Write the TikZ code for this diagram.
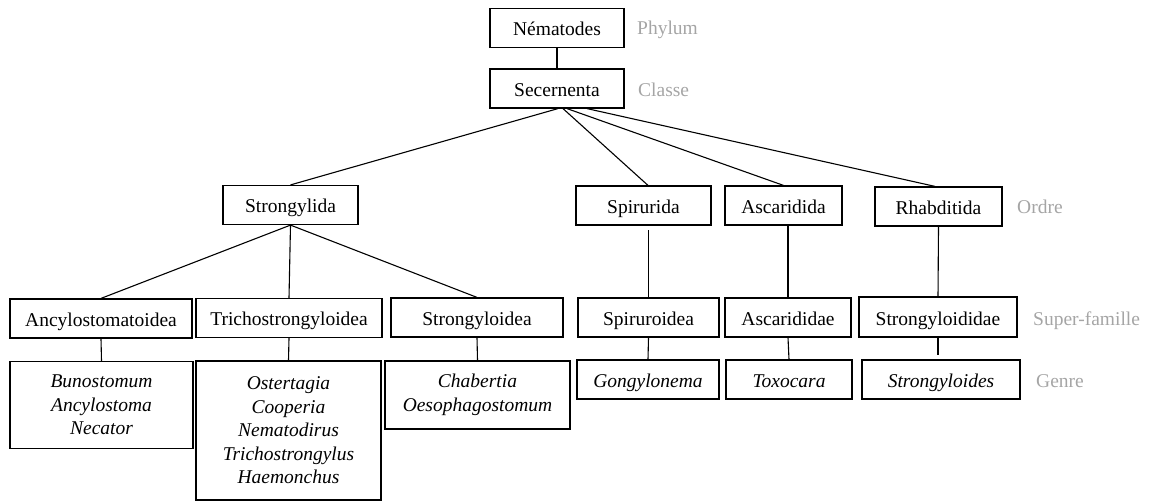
\documentclass[tikz,border=0pt]{standalone}
\usepackage{fontspec}
\setmainfont{Liberation Serif}
\usetikzlibrary{calc}

\definecolor{rankgray}{RGB}{165,165,165}

\begin{document}
\begin{tikzpicture}[x=1pt,y=-1pt,
                    box/.style={draw,line width=1.2pt,inner sep=0pt,
                                font=\fontsize{19.5}{23.5}\selectfont},
                    taxon/.style={box,minimum height=39pt,text height=16pt,text depth=0pt},
                    genus/.style={taxon,font=\fontsize{19.5}{23.5}\selectfont\itshape},
                    genus list/.style={box,align=center,font=\fontsize{19.5}{23.5}\selectfont\itshape},
                    branch/.style={line width=1.1pt},
                    rank label/.style={anchor=base west,inner sep=0pt,text=rankgray,
                                       font=\fontsize{19.5}{23.5}\selectfont}]
    \path[use as bounding box] (0,0) rectangle (1150,502);

    % phylum and class
    \node[taxon,minimum width=134pt] (nematodes) at (557,28) {Nématodes};
    \node[taxon,minimum width=134pt] (secernenta) at (557,88.5) {Secernenta};

    % orders
    \node[taxon,minimum width=135pt] (strongylida) at (290.5,205) {Strongylida};
    \node[taxon,minimum width=135pt] (spirurida) at (643.5,205.5) {Spirurida};
    \node[taxon,minimum width=117pt] (ascaridida) at (783.5,205.5) {Ascaridida};
    \node[taxon,minimum width=127pt] (rhabditida) at (938.5,206.5) {Rhabditida};

    % super-families
    \node[taxon,minimum width=182pt] (ancylostomatoidea) at (101,318.5) {Ancylostomatoidea};
    \node[taxon,minimum width=186pt] (trichostrongyloidea) at (289,318) {Trichostrongyloidea};
    \node[taxon,minimum width=172pt] (strongyloidea) at (477,317.5) {Strongyloidea};
    \node[taxon,minimum width=141pt] (spiruroidea) at (648.5,317.5) {Spiruroidea};
    \node[taxon,minimum width=126pt] (ascarididae) at (788,317.5) {Ascarididae};
    \node[taxon,minimum width=158pt,minimum height=40pt] (strongyloididae) at (938,317) {Strongyloididae};

    % genera
    \node[genus list,minimum width=183pt,minimum height=87pt] (bunostomum) at (101.5,405)
        {Bunostomum\\Ancylostoma\\Necator};
    \node[genus list,minimum width=185pt,minimum height=139pt] (ostertagia) at (288.5,430.5)
        {Ostertagia\\Cooperia\\Nematodirus\\Trichostrongylus\\Haemonchus};
    \node[genus list,minimum width=185pt,minimum height=68pt] (chabertia) at (477.5,395)
        {Chabertia\\Oesophagostomum};
    \node[genus,minimum width=142pt] (gongylonema) at (648,379.5) {Gongylonema};
    \node[genus,minimum width=126pt] (toxocara) at (789,379.5) {Toxocara};
    \node[genus,minimum width=158pt] (strongyloides) at (941,379.5) {Strongyloides};

    % rank names
    \node[rank label] (phylum) at (637,35) {Phylum};
    \node[rank label] (classe) at (638,97) {Classe};
    \node[rank label] (ordre) at (1017,214) {Ordre};
    \node[rank label] (superfamille) at (1033,325) {Super-famille};
    \node[rank label] (genre) at (1036,387) {Genre};

    % tree
    \draw[branch] (nematodes) -- (secernenta);
    \draw[branch] ([xshift=1pt]secernenta.south) -- (strongylida.north);
    \draw[branch] ([xshift=6pt]secernenta.south) -- ([xshift=4.5pt]spirurida.north);
    \draw[branch] ([xshift=10pt]secernenta.south) -- (ascaridida.north);
    \draw[branch] ([xshift=30pt]secernenta.south) -- ([xshift=-3.5pt]rhabditida.north);

    \draw[branch] (strongylida.south) -- (ancylostomatoidea.north);
    \draw[branch] (strongylida.south) -- (trichostrongyloidea.north);
    \draw[branch] (strongylida.south) -- (strongyloidea.north);
    \draw[branch] (spiruroidea.north) -- ($(spiruroidea.north |- spirurida.south)+(0,4)$);
    \draw[branch] (ascarididae.north) -- (ascarididae.north |- ascaridida.south);
    \draw[branch] (rhabditida.south) -- (strongyloididae.north);

    \draw[branch] (ancylostomatoidea.south) -- (bunostomum.north);
    \draw[branch] (trichostrongyloidea.south) -- (ostertagia.north);
    \draw[branch] (strongyloidea.south) -- (chabertia.north);
    \draw[branch] (spiruroidea.south) -- (gongylonema.north);
    \draw[branch] (ascarididae.south) -- (toxocara.north);
    \draw[branch,shorten >=4pt] (strongyloididae.south) -- (strongyloididae.south |- strongyloides.north);
\end{tikzpicture}
\end{document}
